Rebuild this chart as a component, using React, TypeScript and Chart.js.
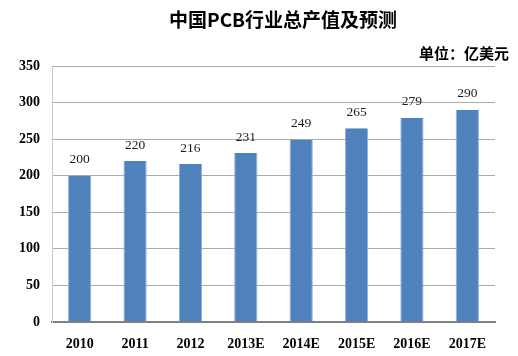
import React, { useEffect, useRef } from "react";
import { Chart, registerables } from "chart.js";

Chart.register(...registerables);

const TITLE = "中国PCB行业总产值及预测";
const UNIT = "单位：亿美元";
const categories = ["2010", "2011", "2012", "2013E", "2014E", "2015E", "2016E", "2017E"];
const values = [200, 220, 216, 231, 249, 265, 279, 290];
const yMin = 0;
const yMax = 350;
const yStep = 50;

const SERIF = "'Liberation Serif', 'Times New Roman', serif";
const CJK = "'Noto Sans CJK SC', 'Noto Sans', sans-serif";

const textPlugin = {
  id: "texts",
  afterDraw(chart: any) {
    const ctx = chart.ctx;
    ctx.save();
    ctx.fillStyle = "#000";
    ctx.font = `bold 19px ${CJK}`;
    ctx.textAlign = "center";
    ctx.textBaseline = "middle";
    ctx.fillText(TITLE, 275, 12);
    ctx.font = `bold 15px ${CJK}`;
    ctx.textAlign = "right";
    ctx.fillText(UNIT, 501, 45);
    // value labels
    const meta = chart.getDatasetMeta(0);
    ctx.font = `13.5px ${SERIF}`;
    ctx.textAlign = "center";
    ctx.fillStyle = "#1a1a1a";
    meta.data.forEach((bar: any, i: number) => {
      ctx.fillText(String(values[i]), bar.x, bar.y - 16);
    });
    ctx.restore();
  },
};

export default function App() {
  const ref = useRef<HTMLCanvasElement>(null);
  useEffect(() => {
    if (!ref.current) return;
    const chart = new Chart(ref.current, {
      type: "bar",
      data: {
        labels: categories,
        datasets: [
          {
            data: values,
            backgroundColor: "#4F81BD",
            borderColor: "#8EB0DC",
            borderWidth: { left: 1, right: 1, top: 0, bottom: 0 } as any,
            borderSkipped: "bottom",
            barPercentage: 0.42,
            categoryPercentage: 1,
          },
        ],
      },
      options: {
        animation: false,
        responsive: true,
        maintainAspectRatio: false,
        layout: { padding: { top: 58, right: 15, bottom: 0, left: 0 } },
        plugins: {
          legend: { display: false },
          title: { display: false },
          tooltip: { enabled: false },
        },
        scales: {
          x: {
            grid: { display: false, drawTicks: false },
            border: { display: true, color: "#808080", width: 2 },
            ticks: {
              color: "#000",
              font: { family: SERIF, size: 14, weight: "bold" },
              padding: 14,
              maxRotation: 0,
              autoSkip: false,
            },
            afterFit(scale: any) {
              scale.height = 26;
            },
          },
          y: {
            min: yMin,
            max: yMax,
            grid: { color: "#ABABAB", lineWidth: 1, drawTicks: false },
            border: { display: true, color: "#C8C8C8", width: 1 },
            ticks: {
              stepSize: yStep,
              color: "#000",
              font: { family: SERIF, size: 14, weight: "bold" },
              padding: 12,
            },
            afterFit(scale: any) {
              scale.width = 44;
            },
          },
        },
      },
      plugins: [textPlugin],
    });
    return () => chart.destroy();
  }, []);
  return (
    <div style={{ width: 502, height: 340, position: "relative" }}>
      <canvas ref={ref} />
    </div>
  );
}
